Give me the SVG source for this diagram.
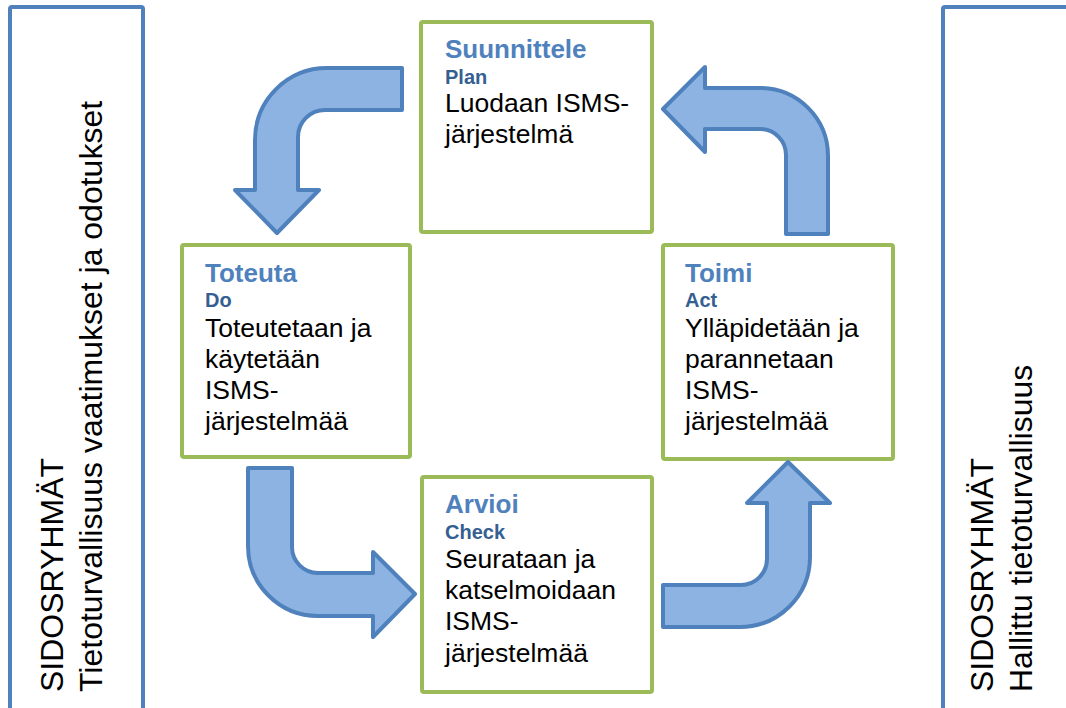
<svg xmlns="http://www.w3.org/2000/svg" width="1066" height="708" viewBox="0 0 1066 708">
<style>
.side{fill:#fff;stroke:#4F81BD;stroke-width:4}
.box{fill:#fff;stroke:#9BBB59;stroke-width:4}
.arrow{fill:#8DB3E2;stroke:#4F81BD;stroke-width:4;stroke-linejoin:round}
.t{font-family:"Liberation Sans",Arial,sans-serif;font-weight:bold;font-size:26px;fill:#4F81BD}
.s{font-family:"Liberation Sans",Arial,sans-serif;font-weight:bold;font-size:20px;fill:#365F91}
.b{font-family:"Liberation Sans",Arial,sans-serif;font-size:26.5px;fill:#000}
.v{font-family:"Liberation Sans",Arial,sans-serif;font-size:32px;fill:#000}
</style>
<rect width="1066" height="708" fill="#fff"/>
<g id="left-stakeholders">
<rect class="side" x="10" y="7" width="133" height="720" rx="2"/>
<text class="v" transform="translate(63,692) rotate(-90)">SIDOSRYHMÄT</text>
<text class="v" transform="translate(102,692) rotate(-90)">Tietoturvallisuus vaatimukset ja odotukset</text>
</g>
<g id="right-stakeholders">
<rect class="side" x="943" y="7" width="140" height="720" rx="2"/>
<text class="v" transform="translate(993,692) rotate(-90)">SIDOSRYHMÄT</text>
<text class="v" transform="translate(1032,692) rotate(-90)">Hallittu tietoturvallisuus</text>
</g>
<g id="plan">
<rect class="box" x="421" y="22" width="231" height="210" rx="2"/>
<text class="t" x="445" y="58">Suunnittele</text>
<text class="s" x="445" y="84">Plan</text>
<text class="b" x="445" y="112">Luodaan ISMS-</text>
<text class="b" x="445" y="143">järjestelmä</text>
</g>
<g id="do">
<rect class="box" x="182" y="245" width="228" height="212" rx="2"/>
<text class="t" x="205" y="282">Toteuta</text>
<text class="s" x="205" y="307">Do</text>
<text class="b" x="205" y="337">Toteutetaan ja</text>
<text class="b" x="205" y="368">käytetään</text>
<text class="b" x="205" y="399">ISMS-</text>
<text class="b" x="205" y="430">järjestelmää</text>
</g>
<g id="act">
<rect class="box" x="663" y="245" width="230" height="214" rx="2"/>
<text class="t" x="685" y="282">Toimi</text>
<text class="s" x="685" y="307">Act</text>
<text class="b" x="685" y="337">Ylläpidetään ja</text>
<text class="b" x="685" y="368">parannetaan</text>
<text class="b" x="685" y="399">ISMS-</text>
<text class="b" x="685" y="430">järjestelmää</text>
</g>
<g id="check">
<rect class="box" x="422" y="477" width="230" height="215" rx="2"/>
<text class="t" x="445" y="513">Arvioi</text>
<text class="s" x="445" y="539">Check</text>
<text class="b" x="445" y="568">Seurataan ja</text>
<text class="b" x="445" y="599">katselmoidaan</text>
<text class="b" x="445" y="630">ISMS-</text>
<text class="b" x="445" y="662">järjestelmää</text>
</g>
<g id="connectors">
<path class="arrow" d="M402,68 L327,68 A72,72 0 0 0 255,140 L255,190 L235,190 L277,233 L319,190 L298,190 L298,137 A27,27 0 0 1 325,110 L402,110 Z"/>
<path class="arrow" d="M248,468 L292,468 L292,547 A26,26 0 0 0 318,573 L373,573 L373,552 L415,594 L373,637 L373,616 L318,616 A70,70 0 0 1 248,546 Z"/>
<path class="arrow" d="M663,585 L741,585 A26,26 0 0 0 767,559 L767,503 L747,503 L788,462 L830,503 L810,503 L810,557 A70,70 0 0 1 740,627 L663,627 Z"/>
<path class="arrow" d="M663,109 L705,67 L705,88 L760,88 A68,68 0 0 1 828,156 L828,234 L786,234 L786,155 A26,26 0 0 0 760,129 L705,129 L705,152 Z"/>
</g>
</svg>
